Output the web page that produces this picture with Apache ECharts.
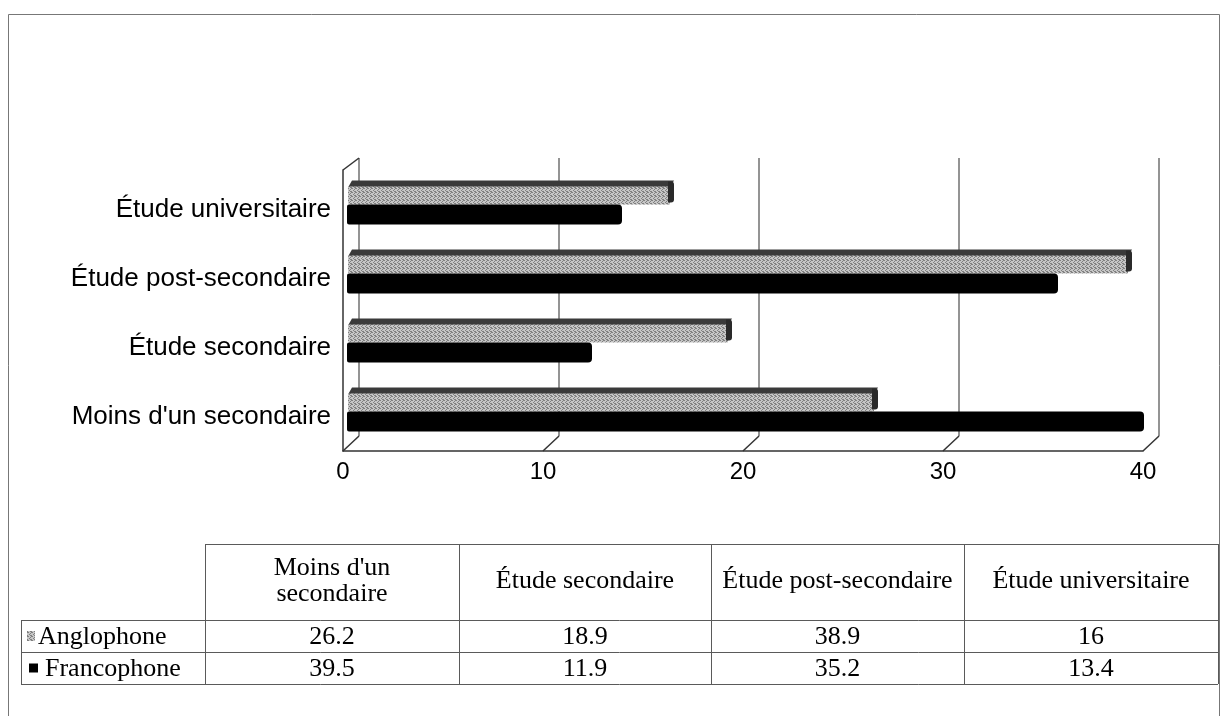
<!DOCTYPE html>
<html>
<head>
<meta charset="utf-8">
<script src="https://cdn.jsdelivr.net/npm/echarts@6/dist/echarts.min.js"></script>
<style>
  html, body { margin: 0; padding: 0; background: #fff; }
  #chart { width: 1229px; height: 716px; }
</style>
</head>
<body>
<div id="chart"></div>
<script>
// Education level by language group (%)
const categories = ["Moins d'un secondaire", "Étude secondaire", "Étude post-secondaire", "Étude universitaire"];
const seriesNames = ["Anglophone", "Francophone"];
const anglophone = [26.2, 18.9, 38.9, 16];
const francophone = [39.5, 11.9, 35.2, 13.4];
const tableHeaders = ["Moins d'un\nsecondaire", "Étude secondaire", "Étude post-secondaire", "Étude universitaire"];
const xTicks = [0, 10, 20, 30, 40];

const SANS = "'Liberation Sans', Arial, sans-serif";
const SERIF = "'Liberation Serif', 'Times New Roman', serif";
const LINE = '#5a5a5a';

// Small fixed dither tile for the grey bars
function ditherTile(light, dark) {
  const c = document.createElement('canvas');
  c.width = 4; c.height = 4;
  const g = c.getContext('2d');
  g.fillStyle = light; g.fillRect(0, 0, 4, 4);
  g.fillStyle = dark;
  [[0, 0], [2, 1], [1, 2], [3, 3], [2, 3], [3, 0]].forEach(([x, y]) => g.fillRect(x, y, 1, 1));
  return c;
}
const greyFill = { image: ditherTile('#c6c6c6', '#808080'), repeat: 'repeat' };

// Grey bar with a dark top face and end cap (pseudo 3D)
function renderAnglo(params, api) {
  const base = api.coord([0, api.value(1)]);
  const end = api.coord([api.value(0), api.value(1)]);
  const x0 = base[0] - 6, x1 = end[0], c = base[1];
  const top = c - 17, bot = c + 1, d = 6;
  return {
    type: 'group',
    children: [
      { type: 'polygon', shape: { points: [[x0, top + 1], [x0 + 4, top - d], [x1, top - d], [x1 - 4, top + 1]] },
        style: { fill: '#3a3a3a' } },
      { type: 'rect', shape: { x: x0, y: top, width: x1 - x0 - 4, height: bot - top, r: [2, 0, 0, 2] },
        style: { fill: greyFill } },
      { type: 'rect', shape: { x: x1 - 6, y: top - d + 1, width: 6, height: bot - top + d - 3, r: [0, 3, 3, 0] },
        style: { fill: '#2a2a2a' } }
    ]
  };
}

// Black bar with rounded end
function renderFranco(params, api) {
  const base = api.coord([0, api.value(1)]);
  const end = api.coord([api.value(0), api.value(1)]);
  const x0 = base[0] - 7, x1 = end[0], c = base[1];
  return {
    type: 'rect',
    shape: { x: x0, y: c + 1, width: x1 - x0, height: 20, r: [2, 4, 4, 2] },
    style: { fill: '#000' }
  };
}

// Floor edges joining the back wall to the front axis
function renderFloorTick(params, api) {
  const p = api.coord([api.value(0), api.value(1)]);
  return {
    type: 'line',
    shape: { x1: p[0], y1: p[1], x2: p[0] + 16, y2: p[1] - 15 },
    style: { stroke: '#333', lineWidth: 1.5 }
  };
}
function renderWallTop(params, api) {
  const p = api.coord([api.value(0), api.value(1)]);
  return {
    type: 'line',
    shape: { x1: p[0], y1: p[1], x2: p[0] + 16, y2: p[1] - 12 },
    style: { stroke: '#333', lineWidth: 1.5 }
  };
}

// Data table under the chart
const T = { left: 21, colEdges: [205, 459, 711, 964, 1218], headTop: 544, rows: [620, 652, 684] };
const TFONT = '26px ' + SERIF;
function tableGraphics() {
  const els = [];
  const line = (x1, y1, x2, y2) => els.push({
    type: 'line', shape: { x1, y1, x2, y2 }, style: { stroke: LINE, lineWidth: 1 }, silent: true
  });
  const right = T.colEdges[T.colEdges.length - 1];
  line(T.colEdges[0], T.headTop + 0.5, right, T.headTop + 0.5);
  T.rows.forEach(y => line(T.left, y + 0.5, right, y + 0.5));
  line(T.left + 0.5, T.rows[0], T.left + 0.5, T.rows[2]);
  T.colEdges.forEach(x => line(x + 0.5, T.headTop, x + 0.5, T.rows[2]));

  const headMid = (T.headTop + T.rows[0]) / 2;
  tableHeaders.forEach((h, i) => {
    els.push({
      type: 'text',
      x: (T.colEdges[i] + T.colEdges[i + 1]) / 2, y: headMid - 1,
      style: { text: h, font: TFONT, fill: '#000', align: 'center', verticalAlign: 'middle', lineHeight: 26 }
    });
  });
  [anglophone, francophone].forEach((vals, r) => {
    const mid = (T.rows[r] + T.rows[r + 1]) / 2;
    vals.forEach((v, i) => {
      els.push({
        type: 'text',
        x: (T.colEdges[i] + T.colEdges[i + 1]) / 2, y: mid + 1,
        style: { text: String(v), font: TFONT, fill: '#000', align: 'center', verticalAlign: 'middle' }
      });
    });
  });
  // legend keys and series names
  const keys = [
    { sx: 27, sw: 8, sh: 10, fill: greyFill, tx: 38 },
    { sx: 29, sw: 9, sh: 9, fill: '#000', tx: 45 }
  ];
  seriesNames.forEach((name, r) => {
    const mid = (T.rows[r] + T.rows[r + 1]) / 2;
    const k = keys[r];
    els.push({ type: 'rect', shape: { x: k.sx, y: mid - k.sh / 2, width: k.sw, height: k.sh }, style: { fill: k.fill } });
    els.push({
      type: 'text', x: k.tx, y: mid + 1,
      style: { text: name, font: TFONT, fill: '#000', align: 'left', verticalAlign: 'middle' }
    });
  });
  // outer frame
  els.push({
    type: 'rect', shape: { x: 8.5, y: 14.5, width: 1211, height: 720 },
    style: { fill: 'transparent', stroke: '#777', lineWidth: 1 }, silent: true
  });
  return els;
}

const chart = echarts.init(document.getElementById('chart'), null, { renderer: 'canvas' });
chart.setOption({
  backgroundColor: '#fff',
  animation: false,
  grid: [
    // back wall
    { left: 359, top: 158, width: 800, height: 278 },
    // bars
    { left: 354, top: 169, width: 800, height: 276 },
    // front floor edge
    { left: 343, top: 170, width: 800, height: 281 },
    // category names, set a little lower than the bar pairs
    { left: 354, top: 175, width: 800, height: 276 }
  ],
  xAxis: [
    { gridIndex: 0, type: 'value', min: 0, max: 40, interval: 10,
      axisLine: { show: false }, axisTick: { show: false }, axisLabel: { show: false },
      splitLine: { show: true, lineStyle: { color: '#707070', width: 1.5 } } },
    { gridIndex: 1, type: 'value', min: 0, max: 40, interval: 10,
      axisLine: { show: false }, axisTick: { show: false }, axisLabel: { show: false }, splitLine: { show: false } },
    { gridIndex: 2, type: 'value', min: 0, max: 40, interval: 10,
      axisLine: { show: true, lineStyle: { color: '#333', width: 1.5 } }, axisTick: { show: false },
      splitLine: { show: false },
      axisLabel: { show: true, margin: 9, fontSize: 24, fontFamily: SANS, color: '#000',
        customValues: xTicks } },
    { gridIndex: 3, type: 'value', min: 0, max: 40, show: false }
  ],
  yAxis: [
    { gridIndex: 0, type: 'value', min: 0, max: 1, show: false },
    { gridIndex: 1, type: 'category', data: categories, show: false },
    { gridIndex: 2, type: 'value', min: 0, max: 1,
      axisLine: { show: true, lineStyle: { color: '#333', width: 1.5 } }, axisTick: { show: false },
      axisLabel: { show: false }, splitLine: { show: false } },
    { gridIndex: 3, type: 'category', data: categories,
      axisLine: { show: false }, axisTick: { show: false }, splitLine: { show: false },
      axisLabel: { margin: 23, fontSize: 26, fontFamily: SANS, color: '#000' } }
  ],
  series: [
    { name: seriesNames[0], type: 'custom', xAxisIndex: 1, yAxisIndex: 1,
      data: anglophone.map((v, i) => [v, i]), encode: { x: 0, y: 1 }, renderItem: renderAnglo, z: 3 },
    { name: seriesNames[1], type: 'custom', xAxisIndex: 1, yAxisIndex: 1,
      data: francophone.map((v, i) => [v, i]), encode: { x: 0, y: 1 }, renderItem: renderFranco, z: 4 },
    { type: 'custom', xAxisIndex: 2, yAxisIndex: 2, silent: true,
      data: xTicks.map(v => [v, 0]), encode: { x: 0, y: 1 }, renderItem: renderFloorTick, z: 2 },
    { type: 'custom', xAxisIndex: 2, yAxisIndex: 2, silent: true,
      data: [[0, 1]], encode: { x: 0, y: 1 }, renderItem: renderWallTop, z: 2 }
  ],
  graphic: tableGraphics()
});
</script>
</body>
</html>
